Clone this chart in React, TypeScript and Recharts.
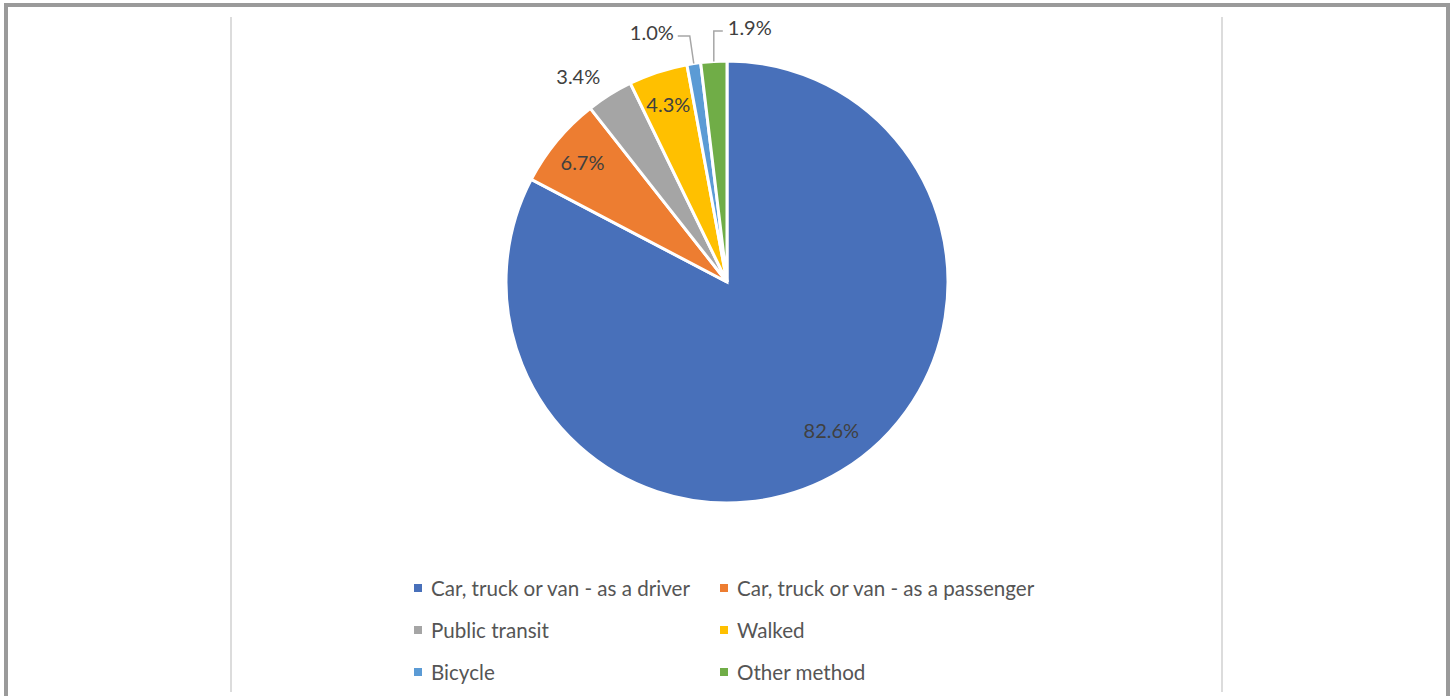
import { PieChart, Pie, Cell, Legend } from 'recharts'

const modes = [
  'Car, truck or van - as a driver',
  'Car, truck or van - as a passenger',
  'Public transit',
  'Walked',
  'Bicycle',
  'Other method',
]
const shares = [82.6, 6.7, 3.4, 4.3, 1.0, 1.9]
const colors = ['#4870BA', '#ED7D31', '#A5A5A5', '#FFC000', '#5B9BD5', '#70AD47']

const data = modes.map((name, i) => ({ name, value: shares[i] }))

const FONT = 'Lato, "Noto Sans", sans-serif'
const RAD = Math.PI / 180

function polar(cx: number, cy: number, r: number, angle: number) {
  return { x: cx + Math.cos(-angle * RAD) * r, y: cy + Math.sin(-angle * RAD) * r }
}

function renderLabel(props: any) {
  const { cx, cy, midAngle, outerRadius, value, index } = props
  const text = `${Number(value).toFixed(1)}%`
  const style = { fontFamily: FONT, fontSize: 20, fill: '#404040' }

  if (value >= 4) {
    // big slice label sits a bit more toward the horizontal, like Excel's best fit
    const ang = value > 50 ? midAngle + 4 : midAngle
    const p = polar(cx, cy, outerRadius * (value > 50 ? 0.82 : 0.85), ang)
    return (
      <text key={index} x={p.x} y={p.y} textAnchor="middle" dominantBaseline="central" style={style}>
        {text}
      </text>
    )
  }
  if (value >= 2) {
    const p = polar(cx, cy, outerRadius * 1.08, midAngle)
    return (
      <text key={index} x={p.x} y={p.y - 4} textAnchor="end" dominantBaseline="central" style={style}>
        {text}
      </text>
    )
  }
  // small slices: elbow leader lines, first to the left, next to the right
  const smallIdx = shares.slice(0, index).filter((v) => v < 2).length
  const goLeft = smallIdx === 0
  const edge = polar(cx, cy, outerRadius, midAngle)
  const elbowY = cy - outerRadius - (goLeft ? 25 : 30)
  const elbowX = goLeft ? edge.x - 4 : edge.x
  const endX = elbowX + (goLeft ? -12 : 9)
  const tx = endX + (goLeft ? -4 : 5)
  return (
    <g key={index}>
      <polyline
        points={`${edge.x},${edge.y} ${elbowX},${elbowY} ${endX},${elbowY}`}
        fill="none"
        stroke="#A6A6A6"
        strokeWidth={1.5}
      />
      <text x={tx} y={elbowY - 4} textAnchor={goLeft ? 'end' : 'start'} dominantBaseline="central" style={style}>
        {text}
      </text>
    </g>
  )
}

function LegendBox() {
  return (
    <div style={{ display: 'grid', gridTemplateColumns: '306px 360px', rowGap: 20, fontFamily: FONT, fontSize: 20.6, color: '#555' }}>
      {data.map((d, i) => (
        <div key={d.name} style={{ display: 'flex', alignItems: 'center', height: 22, whiteSpace: 'nowrap' }}>
          <span style={{ width: 8, height: 8, background: colors[i], marginRight: 9, display: 'inline-block' }} />
          {d.name}
        </div>
      ))}
    </div>
  )
}

export default function App() {
  return (
    <div style={{ position: 'absolute', left: 0, top: 0, width: 1450, height: 696, background: '#fff', overflow: 'hidden' }}>
      <div style={{ position: 'absolute', left: 4, top: 3, width: 1438, height: 700, border: '4px solid #9a9a9a', borderBottom: 'none' }} />
      <div style={{ position: 'absolute', left: 230, top: 17, width: 2, height: 675, background: '#dcdcdc' }} />
      <div style={{ position: 'absolute', left: 1221, top: 17, width: 2, height: 675, background: '#dcdcdc' }} />
      <div style={{ position: 'absolute', left: 0, top: 0 }}>
        <PieChart width={1450} height={696} margin={{ top: 0, right: 0, bottom: 0, left: 0 }}>
          <Pie
            data={data}
            dataKey="value"
            cx={727}
            cy={282}
            outerRadius={221}
            startAngle={90}
            endAngle={-270}
            stroke="#fff"
            strokeWidth={3}
            label={renderLabel}
            labelLine={false}
            isAnimationActive={false}
          >
            {data.map((d, i) => (
              <Cell key={d.name} fill={colors[i]} />
            ))}
          </Pie>
          <Legend
            content={() => <LegendBox />}
            wrapperStyle={{ position: 'absolute', left: 414, top: 577, width: 720 }}
          />
        </PieChart>
      </div>
    </div>
  )
}
